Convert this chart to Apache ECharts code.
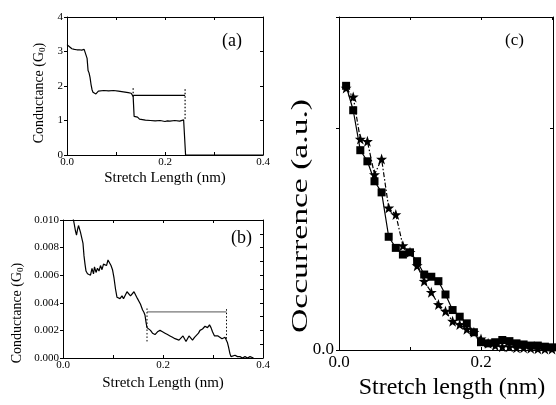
<!DOCTYPE html>
<html><head><meta charset="utf-8">
<script src="https://cdn.jsdelivr.net/npm/echarts@6/dist/echarts.min.js"></script>
<style>html,body{margin:0;padding:0;background:#fff}#c{width:556px;height:405px}</style>
</head><body><div id="c"></div>
<script>
// Panel (a): conductance trace
const aX = [0.000,0.005,0.010,0.015,0.020,0.025,0.030,0.035,0.039,0.041,0.043,0.045,0.047,0.049,0.051,0.053,0.056,0.059,0.061,0.064,0.068,0.075,0.085,0.095,0.105,0.115,0.125,0.131,0.134,0.135,0.137,0.140,0.144,0.148,0.152,0.160,0.170,0.180,0.190,0.200,0.205,0.210,0.220,0.230,0.238,0.241,0.242,0.300,0.400];
const aY = [3.20,3.14,3.08,3.06,3.05,3.05,3.04,3.06,3.02,2.80,2.45,2.38,2.25,2.05,1.90,1.82,1.80,1.77,1.82,1.85,1.87,1.87,1.86,1.87,1.85,1.83,1.81,1.79,1.78,1.70,1.12,1.08,1.10,1.04,1.03,1.01,1.00,0.99,1.00,0.97,0.99,0.98,1.00,0.98,1.02,1.05,0.00,0.00,0.00];
const aStepX = [0.135, 0.241];
const aStepY = 1.73;
const aMark1Y = [1.69, 1.95];
const aMark2Y = [1.05, 1.96];

// Panel (b): conductance trace
const bX = [0.020,0.022,0.025,0.027,0.029,0.031,0.033,0.035,0.038,0.040,0.042,0.044,0.046,0.049,0.052,0.055,0.058,0.061,0.063,0.066,0.069,0.072,0.075,0.078,0.081,0.084,0.087,0.090,0.093,0.096,0.099,0.102,0.105,0.108,0.111,0.114,0.118,0.121,0.124,0.128,0.132,0.135,0.139,0.142,0.146,0.149,0.152,0.155,0.159,0.162,0.164,0.166,0.168,0.171,0.175,0.179,0.184,0.189,0.194,0.199,0.204,0.209,0.214,0.219,0.224,0.228,0.232,0.236,0.240,0.243,0.246,0.249,0.252,0.255,0.259,0.263,0.267,0.271,0.274,0.279,0.284,0.289,0.293,0.296,0.299,0.303,0.306,0.310,0.314,0.318,0.321,0.324,0.327,0.329,0.331,0.334,0.336,0.340,0.344,0.349,0.354,0.359,0.364,0.369,0.374,0.378,0.381];
const bY = [0.0102,0.0098,0.0092,0.0089,0.0093,0.0096,0.0095,0.0091,0.0090,0.0083,0.0074,0.0068,0.0063,0.0061,0.0062,0.0060,0.0065,0.0061,0.0066,0.0062,0.0065,0.0063,0.0067,0.0064,0.0068,0.0069,0.0067,0.0071,0.0070,0.0067,0.0064,0.0058,0.0050,0.0044,0.0043,0.0043,0.0045,0.0043,0.0044,0.0048,0.0048,0.0045,0.0044,0.0048,0.0047,0.0043,0.0042,0.0039,0.0035,0.0033,0.0031,0.0026,0.0022,0.0021,0.0020,0.0018,0.0017,0.0019,0.0020,0.0019,0.0018,0.0017,0.0016,0.0015,0.0014,0.0014,0.0013,0.0014,0.0016,0.0014,0.0012,0.0014,0.0016,0.0015,0.0013,0.0015,0.0016,0.0018,0.0020,0.0021,0.0023,0.0022,0.0024,0.0022,0.0019,0.0016,0.0015,0.0016,0.0016,0.0014,0.0013,0.0015,0.0014,0.0011,0.0008,0.0003,0.0001,0.0001,0.0002,0.0001,0.0001,0.0000,0.0001,0.0000,0.0001,0.0000,0.0000];
const bStepX = [0.168, 0.327];
const bStepY = 0.00334;
const bMark1Y = [0.0012, 0.0036];
const bMark2Y = [0.0014, 0.0036];

// Panel (c): occurrence histograms
const cX = [0.01,0.02,0.03,0.04,0.05,0.06,0.07,0.08,0.09,0.10,0.11,0.12,0.13,0.14,0.15,0.16,0.17,0.18,0.19,0.20,0.21,0.22,0.23,0.24,0.25,0.26,0.27,0.28,0.29,0.30];
const cSquares = [1.19,1.08,0.90,0.85,0.76,0.71,0.51,0.46,0.43,0.44,0.40,0.34,0.33,0.31,0.25,0.18,0.15,0.12,0.08,0.035,0.03,0.035,0.045,0.04,0.03,0.025,0.02,0.02,0.015,0.012];
const cStars = [1.18,1.14,0.95,0.94,0.79,0.86,0.64,0.61,0.47,0.44,0.38,0.31,0.26,0.205,0.175,0.13,0.115,0.094,0.08,0.05,0.03,0.02,0.015,0.015,0.01,0.01,0.008,0.006,0.005,0.005];

const FONT = 'Liberation Serif';
const pairs = (xs, ys) => xs.map((x, i) => [x, ys[i]]);
const star = 'path://M0,-10L2.35,-3.24L9.51,-3.09L3.8,1.24L5.88,8.09L0,4L-5.88,8.09L-3.8,1.24L-9.51,-3.09L-2.35,-3.24Z';
const axLine = {show: true, onZero: false, lineStyle: {color: '#000', width: 1}};

function xPair(gi, min, max, interval, fmt, fs, margin, name, nameFs, nameGap, pad) {
  return [{
    type: 'value', gridIndex: gi, position: 'bottom', min, max, interval,
    axisLine: axLine, axisTick: {show: true, inside: true, length: 3, lineStyle: {color: '#000'}},
    axisLabel: {formatter: fmt, fontFamily: FONT, fontSize: fs, color: '#000', margin},
    splitLine: {show: false},
    name, nameLocation: 'middle', nameGap,
    nameTextStyle: {fontFamily: FONT, fontSize: nameFs, color: '#000', padding: pad || 0}
  }, {
    type: 'value', gridIndex: gi, position: 'top', min, max, interval,
    axisLine: axLine, axisTick: {show: true, inside: true, length: 3, lineStyle: {color: '#000'}},
    axisLabel: {show: false}, splitLine: {show: false}
  }];
}
function yPair(gi, min, max, interval, rInterval, fmt, fs, margin, name, nameFs, nameGap, pad) {
  const left = {
    type: 'value', gridIndex: gi, position: 'left', min, max, interval,
    axisLine: axLine, axisTick: {show: true, inside: false, length: 3, lineStyle: {color: '#000'}},
    axisLabel: {formatter: fmt, fontFamily: FONT, fontSize: fs, color: '#000', margin},
    splitLine: {show: false}
  };
  if (name) {
    left.name = name; left.nameLocation = 'middle'; left.nameGap = nameGap;
    left.nameTextStyle = {fontFamily: FONT, fontSize: nameFs, color: '#000', padding: pad,
      rich: {sub: {fontFamily: FONT, fontSize: Math.round(nameFs * 0.65), color: '#000', padding: [6, 0, 0, 0]}}};
  }
  return [left, {
    type: 'value', gridIndex: gi, position: 'right', min, max, interval: rInterval,
    axisLine: axLine, axisTick: {show: true, inside: true, length: 3, lineStyle: {color: '#000'}},
    axisLabel: {show: false}, splitLine: {show: false}
  }];
}

const fmtA = v => (Math.round(v * 10) % 2 === 0) ? v.toFixed(1) : '';
const fmtC = v => (Math.abs(v) < 1e-9) ? '0.0' : (Math.abs(v - 0.2) < 1e-6 ? '0.2' : '');

const xAxes = [].concat(
  xPair(0, 0, 0.4, 0.1, fmtA, 11, 2, 'Stretch Length (nm)', 15, 16),
  xPair(1, 0, 0.4, 0.1, fmtA, 11, 2, 'Stretch Length (nm)', 15, 18),
  xPair(2, 0, 0.3014, 0.1, fmtC, 17, 4, 'Stretch length (nm)', 24, 26, [0, 0, 0, 12])
);
const yAxes = [].concat(
  yPair(0, 0, 4, 1, 1, v => String(v), 11, 4, 'Conductance (G{sub|0})', 14, 20, [0, 14, 0, 0]),
  yPair(1, 0, 0.010, 0.002, 0.001, v => v.toFixed(3), 11, 4, 'Conductance (G{sub|0})', 14, 38, [0, 48, 0, 0]),
  yPair(2, 0, 1.5, 1, 1, v => (Math.abs(v) < 1e-9 ? '0.0' : ''), 17, 5, '', 0, 0, null)
);
const lineS = (xi, yi, data, extra) => Object.assign({
  type: 'line', xAxisIndex: xi, yAxisIndex: yi, data, showSymbol: false, symbol: 'none',
  lineStyle: {color: '#000', width: 1.2}, itemStyle: {color: '#000'}, animation: false, silent: true
}, extra || {});

const series = [
  lineS(0, 0, pairs(aX, aY)),
  lineS(0, 0, pairs(aStepX, [aStepY, aStepY])),
  lineS(0, 0, pairs([aStepX[0], aStepX[0]], aMark1Y), {lineStyle: {color: '#000', width: 1.2, type: [1.5, 2]}}),
  lineS(0, 0, pairs([aStepX[1], aStepX[1]], aMark2Y), {lineStyle: {color: '#000', width: 1.2, type: [1.5, 2]}}),
  lineS(2, 2, pairs(bX, bY)),
  lineS(2, 2, pairs(bStepX, [bStepY, bStepY]), {lineStyle: {color: '#555', width: 1}}),
  lineS(2, 2, pairs([bStepX[0], bStepX[0]], bMark1Y), {lineStyle: {color: '#000', width: 1, type: [1.5, 2]}}),
  lineS(2, 2, pairs([bStepX[1], bStepX[1]], bMark2Y), {lineStyle: {color: '#000', width: 1, type: [1.5, 2]}}),
  lineS(4, 4, pairs(cX, cSquares), {showSymbol: true, symbol: 'rect', symbolSize: 8, lineStyle: {color: '#000', width: 1.2}}),
  lineS(4, 4, pairs(cX, cStars), {showSymbol: true, symbol: star, symbolSize: 11, lineStyle: {color: '#000', width: 1.2, type: [5, 2, 1.5, 2]}})
];

const chart = echarts.init(document.getElementById('c'), null, {renderer: 'canvas'});
chart.setOption({
  backgroundColor: '#fff',
  animation: false,
  grid: [
    {left: 67, top: 17, width: 196, height: 138},
    {left: 63, top: 220, width: 200, height: 138},
    {left: 339, top: 17, width: 217, height: 337}
  ],
  xAxis: xAxes,
  yAxis: yAxes,
  series,
  graphic: [
    {type: 'text', left: 222, top: 32, style: {text: '(a)', font: '18px "Liberation Serif"', fill: '#000'}},
    {type: 'text', left: 231, top: 229, style: {text: '(b)', font: '18px "Liberation Serif"', fill: '#000'}},
    {type: 'text', left: 505, top: 32, style: {text: '(c)', font: '17px "Liberation Serif"', fill: '#000'}},
    {type: 'text', x: 301, y: 216, rotation: Math.PI / 2, scaleX: 1.4,
      style: {text: 'Occurrence (a.u.)', font: '24px "Liberation Serif"', fill: '#000', align: 'center', verticalAlign: 'middle'}}
  ]
});
</script></body></html>
